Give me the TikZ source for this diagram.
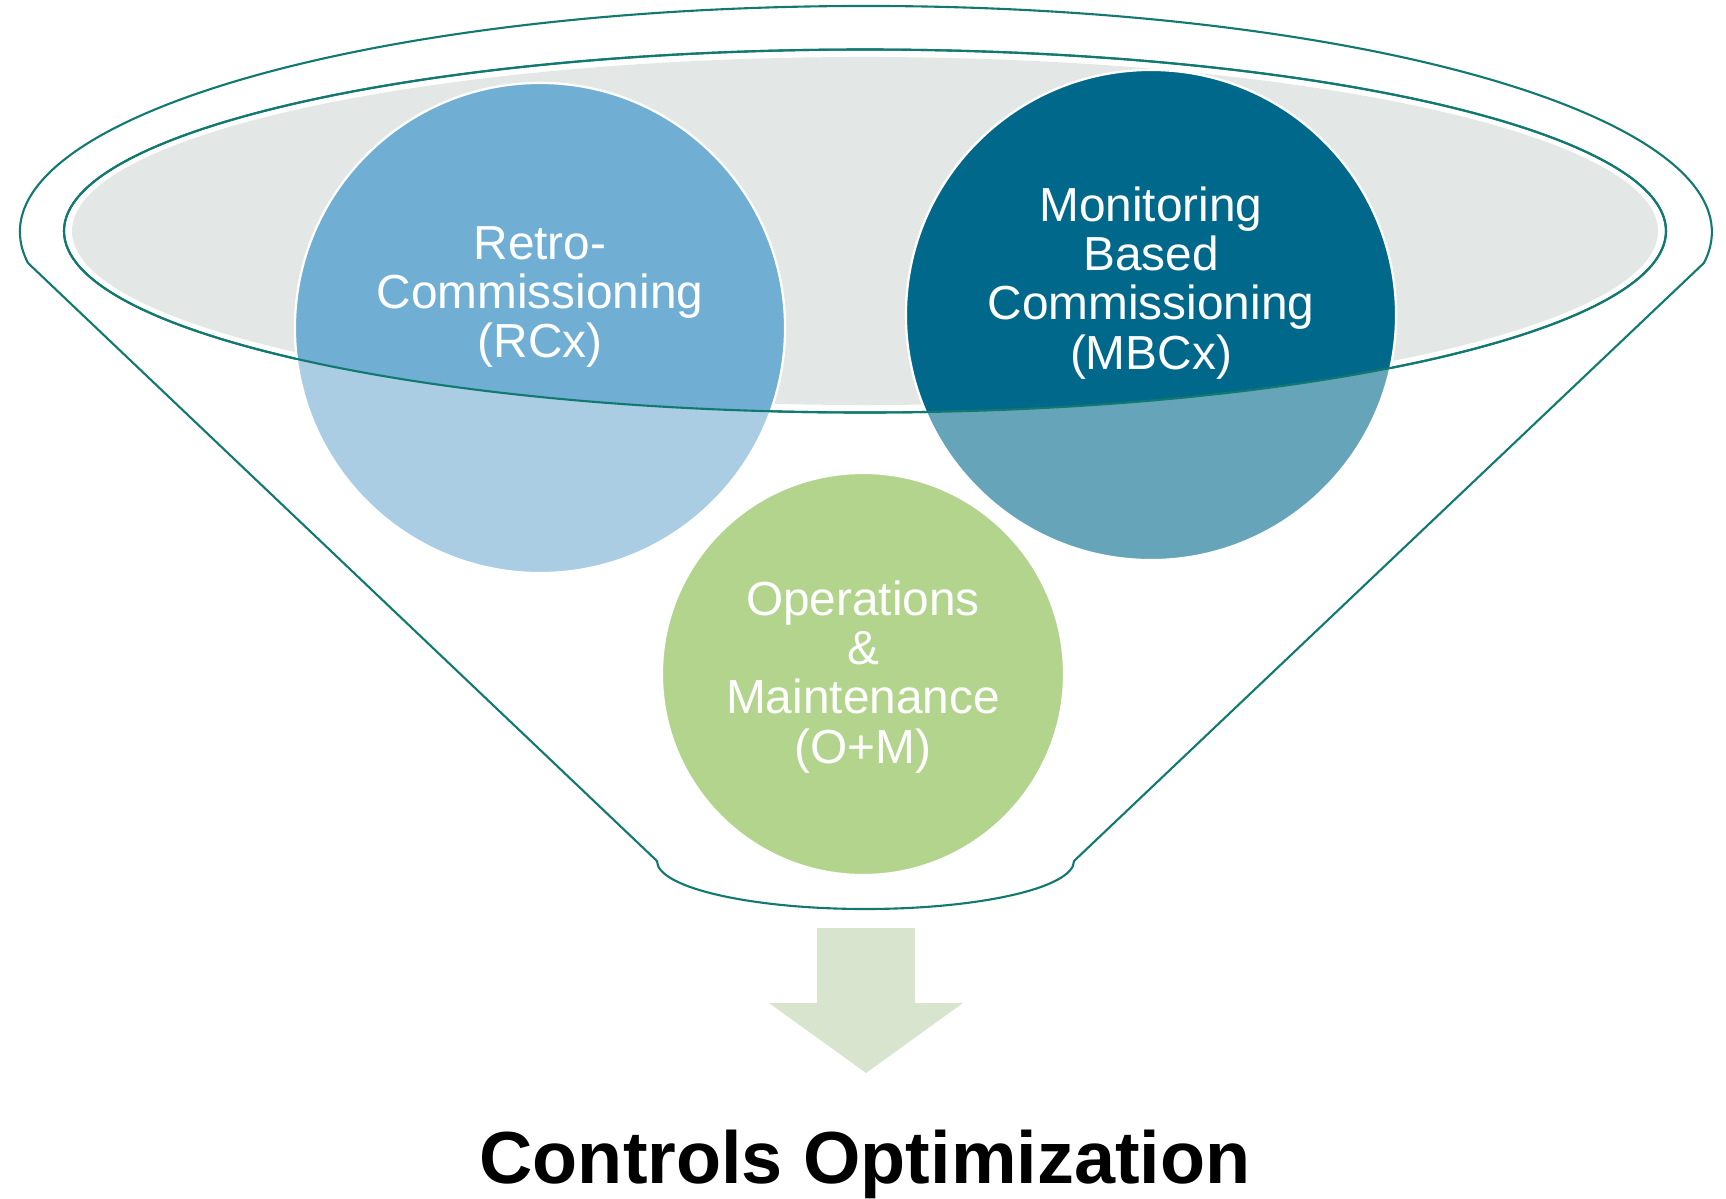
\documentclass[tikz,border=0pt]{standalone}
\usepackage{fontspec}
\setmainfont{Liberation Sans}
\usepackage{tikz}
\definecolor{funnelline}{RGB}{18,121,112}
\definecolor{rimgray}{RGB}{227,232,230}
\definecolor{rcxblue}{RGB}{112,174,211}
\definecolor{rcxlight}{RGB}{170,205,227}
\definecolor{mbcxblue}{RGB}{0,104,139}
\definecolor{mbcxlight}{RGB}{102,165,185}
\definecolor{omgreen}{RGB}{179,212,141}
\definecolor{arrowgreen}{RGB}{216,228,205}

\begin{document}
\begin{tikzpicture}[x=0.1mm, y=-0.1mm,
    funnel/.style={draw=funnelline, line width=0.6pt},
    bubbletext/.style={text=white, align=center, font=\fontsize{13.6pt}{14pt}\selectfont}]
  \useasboundingbox (0,0) rectangle (1726,1199);
  % funnel body
  \draw[funnel] (28,263) arc[start angle=172.1, end angle=367.9, x radius=846, y radius=226]
    -- (1074,861) arc[start angle=0, end angle=180, x radius=208.5, y radius=48] -- cycle;
  % mouth of the funnel
  \filldraw[funnel, fill=white] (865,231) ellipse [x radius=801, y radius=181.5];
  \fill[rimgray] (865,231) ellipse [x radius=793, y radius=174];
  \foreach \pos/\rad/\col in {{540,328}/245/rcxlight, {1151,315}/245/mbcxlight, {863,674}/201/omgreen}
    \filldraw[fill=\col, draw=white, line width=0.6pt] (\pos) circle (\rad);
  \begin{scope}
    \clip (865,231) ellipse [x radius=801, y radius=181.5];
    \filldraw[fill=rcxblue, draw=white, line width=0.6pt] (540,328) circle (245);
    \filldraw[fill=mbcxblue, draw=white, line width=0.6pt] (1151,315) circle (245);
  \end{scope}
  \draw[funnel] (865,231) ellipse [x radius=801, y radius=181.5];
  \node[bubbletext] (rcx) at (540,297) {Retro-\\Commissioning\\(RCx)};
  \node[bubbletext] (mbcx) at (1151,283) {Monitoring\\Based\\Commissioning\\(MBCx)};
  \node[bubbletext] (om) at (863,677) {Operations\\\&\\Maintenance\\(O+M)};
  % output arrow
  \fill[arrowgreen] (817,928) -- (915,928) -- (915,1003) -- (963,1003) -- (866,1073)
    -- (769,1003) -- (817,1003) -- cycle;
  \node[font=\fontsize{21pt}{25pt}\bfseries\selectfont, anchor=base] (result) at (865,1183) {Controls Optimization};
\end{tikzpicture}
\end{document}
